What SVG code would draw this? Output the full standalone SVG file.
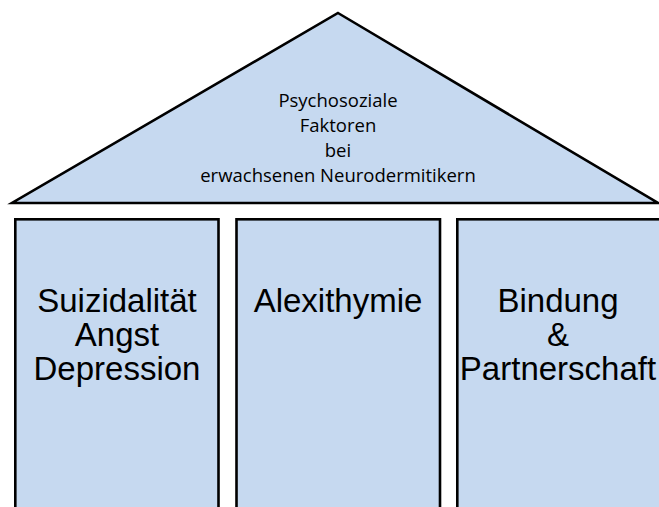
<svg xmlns="http://www.w3.org/2000/svg" width="659" height="507" viewBox="0 0 659 507">
  <style>
    .shape { fill: #c6d9f0; stroke: #000; stroke-width: 2.6; stroke-linejoin: miter; }
    .roof-text { font-family: "Open Sans", "Noto Sans", sans-serif; font-size: 18.5px; fill: #000; text-anchor: middle; }
    .pillar-text { font-family: "Liberation Sans", Arial, sans-serif; font-size: 33px; fill: #000; text-anchor: middle; }
  </style>
  <rect width="659" height="507" fill="#fff"/>

  <!-- roof -->
  <g id="roof">
    <polygon class="shape" points="338,13 658,203 12,203"/>
    <text class="roof-text" x="338" y="107">Psychosoziale</text>
    <text class="roof-text" x="338" y="132">Faktoren</text>
    <text class="roof-text" x="338" y="157">bei</text>
    <text class="roof-text" x="338" y="182">erwachsenen Neurodermitikern</text>
  </g>

  <!-- pillars -->
  <g id="pillar-1">
    <rect class="shape" x="15.3" y="219.3" width="203.2" height="300"/>
    <text class="pillar-text" x="117" y="312">Suizidalität</text>
    <text class="pillar-text" x="117" y="346">Angst</text>
    <text class="pillar-text" x="117" y="380">Depression</text>
  </g>
  <g id="pillar-2">
    <rect class="shape" x="236.5" y="219.3" width="203.5" height="300"/>
    <text class="pillar-text" x="338" y="312">Alexithymie</text>
  </g>
  <g id="pillar-3">
    <rect class="shape" x="457.3" y="219.3" width="220" height="300"/>
    <text class="pillar-text" x="558" y="312">Bindung</text>
    <text class="pillar-text" x="558" y="346">&amp;</text>
    <text class="pillar-text" x="558" y="380">Partnerschaft</text>
  </g>

  <!-- no connectors in this figure -->
  <g id="connectors"/>
</svg>
